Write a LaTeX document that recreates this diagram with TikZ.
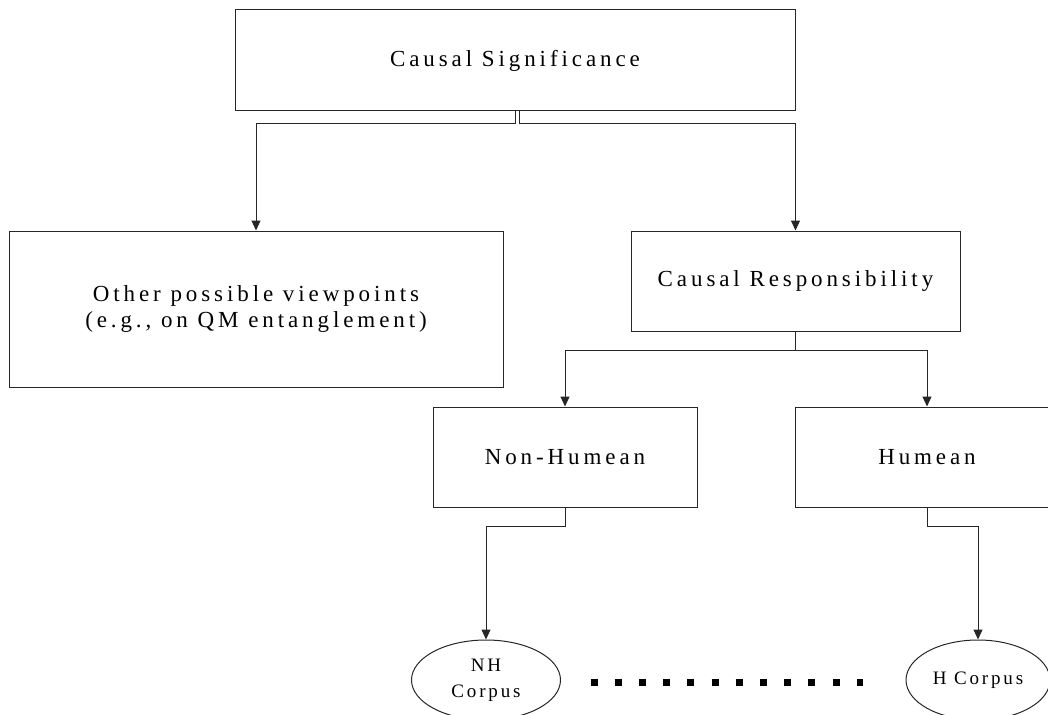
\documentclass[tikz,border=0pt]{standalone}
\usepackage{fontspec}
\setmainfont{Liberation Serif}
\newfontfamily\lbl[LetterSpace=17]{Liberation Serif}
\newfontfamily\lblsmall[LetterSpace=15]{Liberation Serif}
\usetikzlibrary{arrows.meta,shapes.geometric}
\tikzset{
  box/.style={draw=black!85, line width=1pt, rectangle, inner sep=0pt,
    font=\lbl\fontsize{23}{25}\selectfont, align=center},
  corpus/.style={draw=black!85, line width=1pt, ellipse, inner sep=0pt,
    minimum height=80pt, font=\lblsmall\fontsize{19}{26}\selectfont, align=center},
  link/.style={draw=black!85, line width=1pt, -{Triangle[length=10pt,width=9pt]}},
  dotrow/.style={draw=black, line width=7pt, dash pattern=on 7pt off 17.2pt}
}
\begin{document}
\begin{tikzpicture}[x=1pt,y=-1pt]
\useasboundingbox (0,0) rectangle (1048,714);

% boxes of the hierarchy
\node[box, minimum width=560pt, minimum height=101pt] (sig) at (515,60.5) {Causal Significance};
\node[box, minimum width=494pt, minimum height=156pt] (other) at (256,309)
  {Other possible viewpoints\\(e.g., on QM entanglement)};
\node[box, minimum width=329pt, minimum height=100pt] (resp) at (795.5,281) {Causal Responsibility};
\node[box, minimum width=264pt, minimum height=100pt] (nonhum) at (565,457) {Non-Humean};
\node[box, minimum width=264pt, minimum height=100pt] (hum) at (927,457) {Humean};

% corpora
\node[corpus, minimum width=149pt] (nhc) at (486,680) {NH\\Corpus};
\node[corpus, minimum width=144pt] (hc) at (978,680) {H Corpus};

% connectors
\draw[link] ([xshift=0.5pt]sig.south) -- ++(0,12.5) -| (other.north);
\draw[link] ([xshift=4.5pt]sig.south) -- ++(0,12.5) -| (resp.north);
\draw[link] (resp.south) -- ++(0,19) -| (nonhum.north);
\draw[link] (resp.south) -- ++(0,19) -| (hum.north);
\draw[link] (nonhum.south) -- ++(0,19) -| (nhc.north);
\draw[link] (hum.south) -- ++(0,19) -| (hc.north);

% dotted link between the corpora
\draw[dotrow, shorten <=29.5pt, shorten >=43pt] ([yshift=-2pt]nhc.east) -- ([yshift=-2pt]hc.west);
\end{tikzpicture}
\end{document}
